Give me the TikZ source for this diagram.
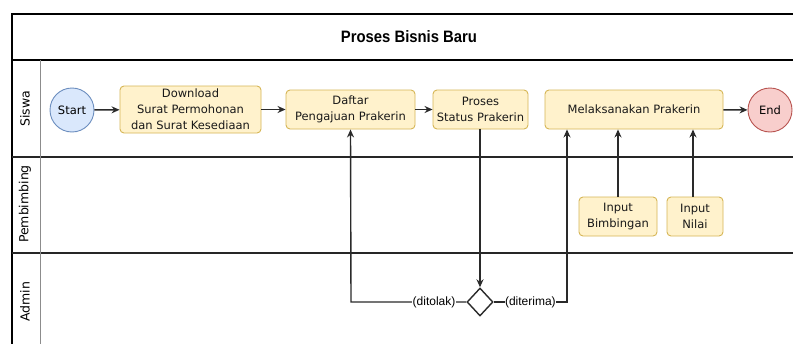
\documentclass[tikz,border=0pt]{standalone}
\usepackage{fontspec}
\setmainfont{DejaVu Sans}
\newfontfamily\arialfont{Liberation Sans}
\usetikzlibrary{arrows.meta,shapes.geometric}
\definecolor{taskfill}{HTML}{FFF2CC}
\definecolor{taskdraw}{HTML}{D6B656}
\definecolor{startfill}{HTML}{DAE8FC}
\definecolor{startdraw}{HTML}{6C8EBF}
\definecolor{endfill}{HTML}{F8CECC}
\definecolor{enddraw}{HTML}{B85450}
\definecolor{linec}{HTML}{2A2A2A}
\tikzset{
  task/.style={draw=taskdraw, fill=taskfill, rounded corners=4pt, line width=0.9pt,
    align=center, inner sep=0pt, font=\fontsize{11.5}{16}\selectfont, text=black!90},
  startev/.style={circle, draw=startdraw, fill=startfill, line width=0.9pt,
    minimum size=44pt, inner sep=0pt, font=\fontsize{11.5}{14}\selectfont},
  endev/.style={circle, draw=enddraw, fill=endfill, line width=0.9pt,
    minimum size=44pt, inner sep=0pt, font=\fontsize{11.5}{14}\selectfont},
  gateway/.style={diamond, draw=linec, fill=white, line width=1.4pt, inner sep=0pt,
    minimum width=26pt, minimum height=28pt},
  conn/.style={draw=linec, line width=1.4pt, -{Stealth[length=8pt,width=7pt]}},
  lbl/.style={fill=white, inner sep=0.5pt, font=\arialfont\fontsize{12}{13}\selectfont},
  lanelbl/.style={rotate=90, font=\fontsize{12.5}{14}\selectfont},
}
\begin{document}
\begin{tikzpicture}[x=1pt,y=-1pt]
\useasboundingbox (0,0) rectangle (793,343);
\fill[white] (0,0) rectangle (793,343);
\begin{scope}
\clip (0,0) rectangle (793,343);
\draw[black, line width=1.6pt] (12,14) rectangle (810,360);
\draw[black, line width=2pt] (12,60) -- (810,60);
\draw[black!85, line width=1.6pt] (12,157) -- (810,157);
\draw[black!85, line width=1.6pt] (12,253) -- (810,253);
\draw[black!45, line width=0.8pt] (40,60) -- (40,360);
\end{scope}

\node[font=\arialfont\bfseries\fontsize{16.5}{18}\selectfont] (title) at (409,37) {\scalebox{0.9}[1]{Proses Bisnis Baru}};
\node[lanelbl] (l1) at (25,109) {Siswa};
\node[lanelbl] (l2) at (25,204) {Pembimbing};
\node[lanelbl] (l3) at (25,302) {Admin};

\node[startev] (start) at (72,110) {Start};
\node[task, minimum width=141pt, minimum height=47pt] (dl) at (190.5,109.5) {Download\\Surat Permohonan\\dan Surat Kesediaan};
\node[task, minimum width=129pt, minimum height=39pt] (daftar) at (350.5,109.5) {Daftar\\Pengajuan Prakerin};
\node[task, minimum width=95pt, minimum height=39pt] (proses) at (480.5,109.5) {Proses\\Status Prakerin};
\node[task, minimum width=178pt, minimum height=39pt] (mel) at (634,109.5) {Melaksanakan Prakerin};
\node[endev] (end) at (770,110) {End};
\node[task, minimum width=78pt, minimum height=39pt] (ib) at (618,216.5) {Input\\Bimbingan};
\node[task, minimum width=56pt, minimum height=39pt] (in) at (695,216.5) {Input\\Nilai};
\node[gateway] (dia) at (480,302) {};
\coordinate (tol) at (351,302);
\coordinate (dit) at (567,302);

\draw[conn] (start) -- (dl);
\draw[conn] (dl) -- (daftar);
\draw[conn] (daftar) -- (proses);
\draw[conn] (mel) -- (end);
\draw[conn] (proses.south -| dia.north) -- (dia.north);
\draw[conn] (dia.west) -- node[lbl, pos=0.28] {(ditolak)} (tol) -- (daftar.south);
\draw[conn] (dia.east) -- node[lbl, pos=0.5] {(diterima)} (dit) -- (dit |- mel.south);
\draw[conn] (ib.north) -- (ib.north |- mel.south);
\draw[conn] (in.north -| 693,0) -- (693,0 |- mel.south);
\end{tikzpicture}
\end{document}
